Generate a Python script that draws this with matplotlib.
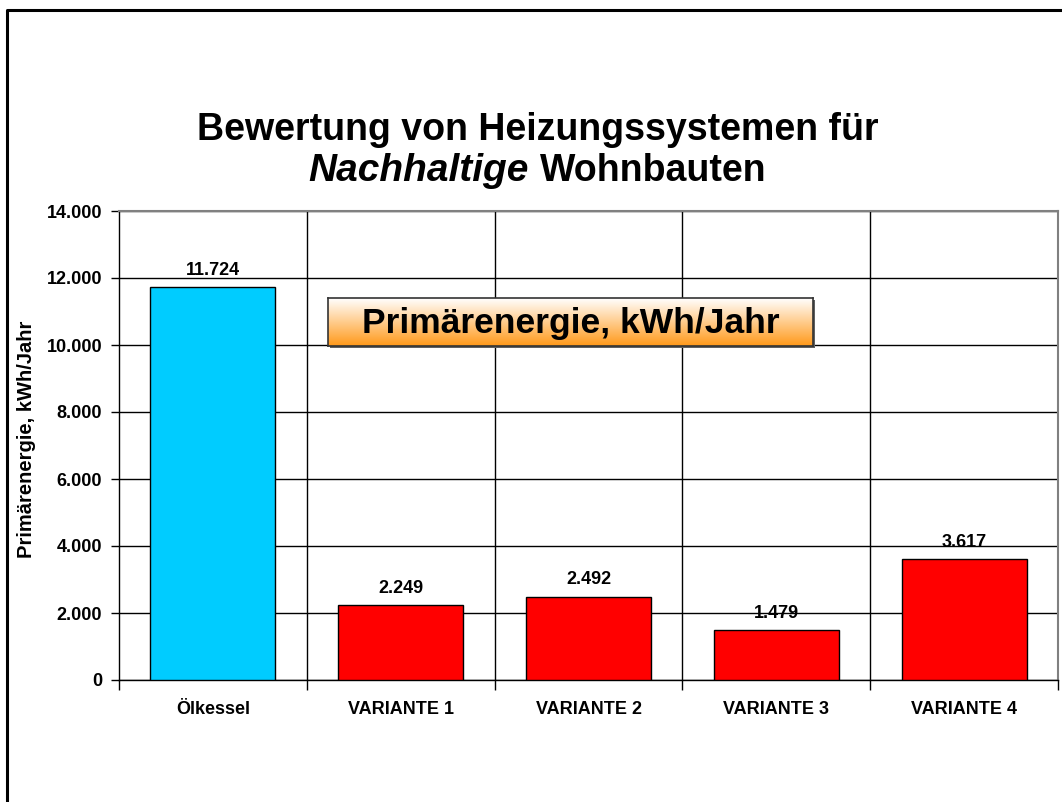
import matplotlib
matplotlib.use("Agg")
import matplotlib.pyplot as plt
import numpy as np
from matplotlib.lines import Line2D
from matplotlib.ticker import FuncFormatter, FixedLocator

plt.rcParams['font.family'] = ['Liberation Sans', 'DejaVu Sans']

categories = ["Ölkessel", "VARIANTE 1", "VARIANTE 2", "VARIANTE 3", "VARIANTE 4"]
values = [11724, 2249, 2492, 1479, 3617]
colors = ["#00CCFF", "#FF0000", "#FF0000", "#FF0000", "#FF0000"]
y_ticks = [0, 2000, 4000, 6000, 8000, 10000, 12000, 14000]

W, H = 1062, 802
fig = plt.figure(figsize=(W / 100, H / 100), dpi=100)
fig.patch.set_facecolor("white")

def fx(px):
    return px / W

def fy(py):
    return 1 - py / H

# outer frame (clipped at right/bottom)
fig.add_artist(Line2D([fx(7), fx(7), fx(1062)], [fy(802), fy(10), fy(10)],
                      color="black", lw=2.2, transform=fig.transFigure))

ax = fig.add_axes([fx(119), fy(680), fx(1058) - fx(119), fy(211) - fy(680)])
x = np.arange(len(categories))
bars = ax.bar(x, values, width=0.665, color=colors, edgecolor="black", linewidth=1.0, zorder=3)

ax.set_xlim(-0.5, len(categories) - 0.5)
ax.set_ylim(0, 14000)
ax.yaxis.set_major_locator(FixedLocator(y_ticks))
ax.yaxis.set_major_formatter(FuncFormatter(lambda v, p: f"{int(v):,}".replace(",", ".")))
ax.grid(axis="y", color="black", lw=1.0, zorder=0)

# vertical separators at category boundaries
for b in np.arange(0.5, len(categories) - 0.5, 1.0):
    ax.axvline(b, color="black", lw=1.0, zorder=0)

ax.set_xticks(x)
ax.set_xticklabels(categories, fontsize=13, fontweight="bold")
ax.tick_params(axis="x", length=0, pad=15)
ax.set_xticks(np.arange(-0.5, len(categories) + 0.5, 1.0), minor=True)
ax.tick_params(axis="x", which="minor", length=7, width=1.0, direction="out")
ax.tick_params(axis="y", length=6, width=1.0, direction="out", labelsize=13, pad=6)
for lab in ax.get_yticklabels():
    lab.set_fontweight("bold")

for s in ["left", "bottom"]:
    ax.spines[s].set_color("black")
    ax.spines[s].set_linewidth(1.0)
for s in ["top", "right"]:
    ax.spines[s].set_color("#808080")
    ax.spines[s].set_linewidth(1.5)

for xi, v in zip(x, values):
    ax.text(xi, v + 360, f"{v:,}".replace(",", "."), ha="center", va="baseline",
            fontsize=13, fontweight="bold", zorder=4)

fig.text(fx(27), fy(439), "Primärenergie, kWh/Jahr", rotation=90, ha="center", va="center",
         fontsize=14.5, fontweight="bold")

# title
fig.text(fx(538), fy(130), "Bewertung von Heizungssystemen für", ha="center", va="center",
         fontsize=27, fontweight="bold")
fig.text(fx(529), fy(171), "Nachhaltige", ha="right", va="center",
         fontsize=28, fontweight="bold", style="italic")
fig.text(fx(540), fy(171), "Wohnbauten", ha="left", va="center",
         fontsize=27, fontweight="bold")

# gradient label box
bx0, bx1, by0, by1 = 328, 813, 298, 346
# shadow
shadow = fig.add_axes([fx(bx0 + 2), fy(by1 + 2), fx(bx1) - fx(bx0), fy(by0) - fy(by1)])
shadow.set_facecolor("#606060")
shadow.set_xticks([]); shadow.set_yticks([])
for s in shadow.spines.values():
    s.set_visible(False)
bax = fig.add_axes([fx(bx0), fy(by1), fx(bx1) - fx(bx0), fy(by0) - fy(by1)])
grad = np.linspace(0, 1, 256).reshape(-1, 1)
top = np.array([1.0, 1.0, 1.0])
bot = np.array([1.0, 0.6, 0.1])
img = (1 - grad)[:, :, None] * top + grad[:, :, None] * bot
bax.imshow(img, aspect="auto", extent=[0, 1, 0, 1], origin="upper")
bax.set_xlim(0, 1); bax.set_ylim(0, 1)
bax.set_xticks([]); bax.set_yticks([])
for s in bax.spines.values():
    s.set_color("#333333")
    s.set_linewidth(1.2)
bax.text(0.5, 0.47, "Primärenergie, kWh/Jahr", ha="center", va="center",
         fontsize=25.5, fontweight="bold", transform=bax.transAxes)

fig.savefig("out.png", dpi=100)
